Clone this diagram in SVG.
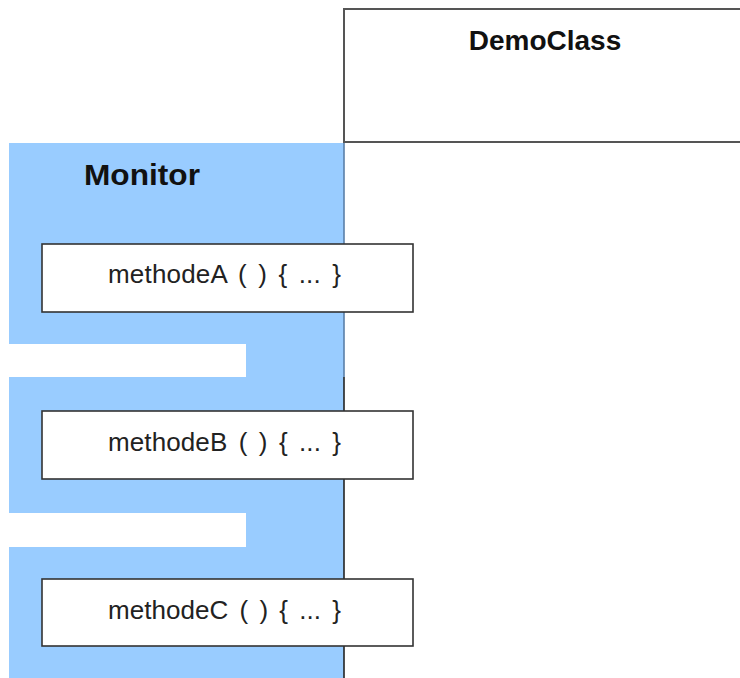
<svg xmlns="http://www.w3.org/2000/svg" width="740" height="678" viewBox="0 0 740 678">
<style>
.box{fill:#fff;stroke:#333;stroke-width:1.6}
.mtext{font-family:"Liberation Sans",Arial,sans-serif;font-size:26px;fill:#222;word-spacing:4px}
.title{font-family:"Liberation Sans",Arial,sans-serif;font-weight:bold;fill:#111}
</style>
<rect width="740" height="678" fill="#fff"/>
<g id="democlass">
<rect x="344" y="9" width="410" height="133" fill="#fff" stroke="#555" stroke-width="2"/>
<text class="title" x="545" y="50" font-size="28" text-anchor="middle">DemoClass</text>
</g>
<g id="monitor">
<path d="M9 143 H344 V678 H9 V547 H246 V513 H9 V377 H246 V344 H9 Z" fill="#99ccff"/>
<text class="title" x="84" y="185" font-size="30" textLength="116" lengthAdjust="spacingAndGlyphs">Monitor</text>
</g>
<g id="lifeline">
<line x1="344" y1="143" x2="344" y2="377" stroke="#5a7fa8" stroke-width="1.6"/>
<line x1="344" y1="377" x2="344" y2="678" stroke="#222" stroke-width="1.6"/>
</g>
<g id="methodeA">
<rect class="box" x="42" y="244" width="371" height="68"/>
<text class="mtext" x="108" y="283" textLength="233" lengthAdjust="spacing">methodeA ( ) { ... }</text>
</g>
<g id="methodeB">
<rect class="box" x="42" y="411" width="371" height="68"/>
<text class="mtext" x="108" y="451" textLength="233" lengthAdjust="spacing">methodeB ( ) { ... }</text>
</g>
<g id="methodeC">
<rect class="box" x="42" y="579" width="371" height="67"/>
<text class="mtext" x="108" y="619" textLength="233" lengthAdjust="spacing">methodeC ( ) { ... }</text>
</g>
<g id="connectors"/>
</svg>
